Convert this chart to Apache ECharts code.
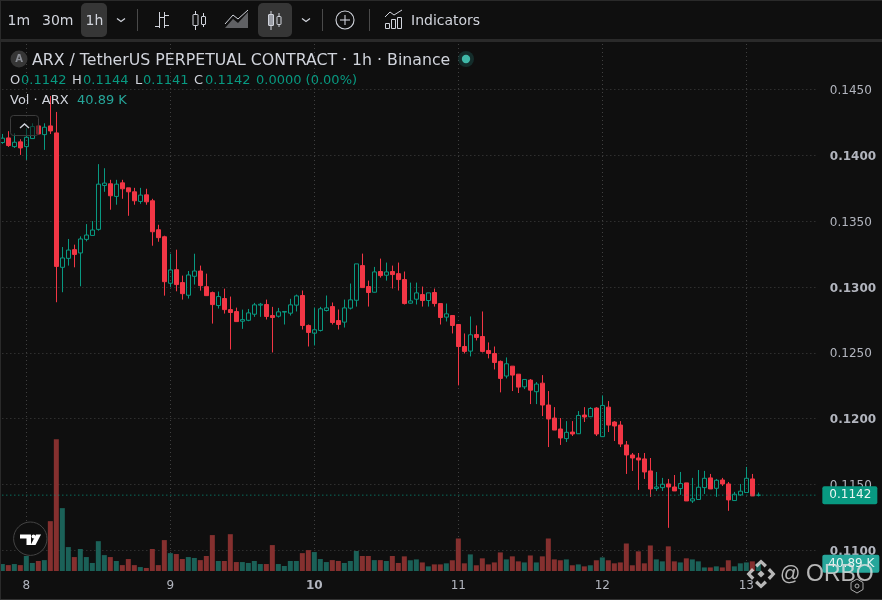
<!DOCTYPE html>
<html><head><meta charset="utf-8"><style>html,body{margin:0;padding:0;background:#0f0f0f}#c{width:882px;height:600px}</style>
<script src="https://cdn.jsdelivr.net/npm/echarts@6/dist/echarts.min.js"></script></head><body><div id="c"></div>
<script>
const opens=[0.14096,0.14131,0.14065,0.14101,0.14065,0.14126,0.14222,0.14156,0.14222,0.14169,
0.13149,0.13217,0.13283,0.13258,0.13361,0.13391,0.13437,0.13770,0.13783,0.13687,
0.13790,0.13752,0.13722,0.13649,0.13699,0.13654,0.13434,0.13381,0.13028,0.13131,
0.13033,0.12937,0.13081,0.13121,0.13002,0.12957,0.12859,0.12912,0.12828,0.12813,
0.12740,0.12747,0.12793,0.12862,0.12867,0.12783,0.12778,0.12809,0.12801,0.12862,
0.12935,0.12708,0.12649,0.12670,0.12821,0.12851,0.12745,0.12733,0.12839,0.12899,
0.13162,0.13003,0.12960,0.13117,0.13089,0.13117,0.13101,0.13056,0.12877,0.12907,
0.12942,0.12897,0.12958,0.12874,0.12771,0.12783,0.12715,0.12548,0.12513,0.12639,
0.12624,0.12518,0.12495,0.12435,0.12324,0.12399,0.12338,0.12242,0.12293,0.12205,
0.12270,0.12104,0.12005,0.11922,0.11849,0.11899,0.11886,0.12028,0.12015,0.12081,
0.11864,0.12088,0.11975,0.11952,0.11801,0.11725,0.11702,0.11695,0.11604,0.11470,
0.11477,0.11505,0.11482,0.11470,0.11513,0.11376,0.11387,0.11477,0.11551,0.11472,
0.11535,0.11505,0.11379,0.11422,0.11440,0.11543,0.11420];
const closes=[0.14129,0.14073,0.14098,0.14055,0.14136,0.14217,0.14161,0.14212,0.14184,0.13156,
0.13220,0.13280,0.13247,0.13364,0.13394,0.13432,0.13780,0.13788,0.13692,0.13780,
0.13745,0.13722,0.13654,0.13697,0.13646,0.13419,0.13374,0.13040,0.13129,0.13018,
0.12949,0.13091,0.13121,0.13010,0.12934,0.12866,0.12927,0.12828,0.12806,0.12737,
0.12752,0.12803,0.12864,0.12869,0.12776,0.12768,0.12811,0.12814,0.12864,0.12932,
0.12708,0.12655,0.12675,0.12834,0.12841,0.12730,0.12715,0.12841,0.12902,0.13175,
0.12995,0.12958,0.13114,0.13086,0.13114,0.13094,0.13056,0.12874,0.12894,0.12955,
0.12897,0.12955,0.12874,0.12768,0.12796,0.12708,0.12548,0.12511,0.12637,0.12617,
0.12511,0.12495,0.12427,0.12306,0.12417,0.12331,0.12240,0.12298,0.12217,0.12263,
0.12104,0.11998,0.11914,0.11854,0.11897,0.11884,0.12025,0.12013,0.12078,0.11884,
0.12101,0.11952,0.11945,0.11808,0.11725,0.11702,0.11687,0.11596,0.11467,0.11482,
0.11503,0.11482,0.11452,0.11508,0.11376,0.11392,0.11480,0.11548,0.11467,0.11533,
0.11505,0.11384,0.11427,0.11450,0.11548,0.11414,0.11420];
const lows=[0.14086,0.14063,0.14055,0.14002,0.13964,0.14124,0.14161,0.14040,0.14161,0.12884,
0.12960,0.13162,0.13149,0.13005,0.13346,0.13389,0.13427,0.13722,0.13586,0.13624,
0.13669,0.13540,0.13624,0.13631,0.13624,0.13313,0.13343,0.12934,0.13000,0.12967,
0.12904,0.12912,0.13018,0.12972,0.12934,0.12722,0.12836,0.12798,0.12525,0.12737,
0.12682,0.12740,0.12773,0.12773,0.12753,0.12503,0.12768,0.12715,0.12783,0.12814,
0.12677,0.12548,0.12556,0.12662,0.12814,0.12715,0.12677,0.12692,0.12829,0.12851,
0.12995,0.12851,0.12958,0.13071,0.13048,0.12988,0.12973,0.12867,0.12874,0.12867,
0.12851,0.12851,0.12851,0.12715,0.12738,0.12647,0.12253,0.12495,0.12473,0.12594,
0.12503,0.12458,0.12374,0.12200,0.12306,0.12210,0.12195,0.12225,0.12111,0.12111,
0.12020,0.11785,0.11914,0.11801,0.11823,0.11869,0.11884,0.11975,0.12013,0.11869,
0.11864,0.11899,0.11831,0.11785,0.11581,0.11604,0.11460,0.11543,0.11407,0.11452,
0.11452,0.11172,0.11452,0.11422,0.11376,0.11361,0.11387,0.11429,0.11467,0.11407,
0.11490,0.11301,0.11376,0.11414,0.11437,0.11414,0.11410];
const highs=[0.14161,0.14182,0.14166,0.14121,0.14204,0.14242,0.14222,0.14242,0.14449,0.14328,
0.13303,0.13364,0.13321,0.13384,0.13477,0.13500,0.13932,0.13901,0.13813,0.13813,
0.13813,0.13752,0.13752,0.13752,0.13745,0.13669,0.13472,0.13389,0.13252,0.13283,
0.13086,0.13121,0.13252,0.13162,0.13101,0.12965,0.12965,0.12987,0.12927,0.12843,
0.12828,0.12833,0.12879,0.12879,0.12904,0.12849,0.12841,0.12814,0.12910,0.12942,
0.12973,0.12715,0.12844,0.12849,0.12935,0.12882,0.12829,0.12904,0.13026,0.13175,
0.13253,0.13048,0.13152,0.13215,0.13185,0.13162,0.13185,0.13117,0.13033,0.13033,
0.13003,0.12955,0.12988,0.12874,0.12874,0.12783,0.12715,0.12647,0.12776,0.12708,
0.12814,0.12579,0.12548,0.12442,0.12465,0.12399,0.12338,0.12298,0.12301,0.12278,
0.12331,0.12210,0.12088,0.12005,0.11982,0.11982,0.12058,0.12088,0.12088,0.12088,
0.12177,0.12134,0.11982,0.11982,0.11831,0.11740,0.11740,0.11740,0.11702,0.11596,
0.11551,0.11543,0.11573,0.11596,0.11513,0.11551,0.11611,0.11604,0.11581,0.11543,
0.11551,0.11520,0.11445,0.11505,0.11634,0.11581,0.11440];
const volumesK=[39,33,39,33,84,45,56,61,279,737,
352,134,78,123,78,45,167,89,78,56,
33,67,33,22,17,123,33,173,100,95,
67,78,73,61,84,201,56,56,206,50,
50,45,56,39,39,145,39,28,56,56,
100,117,106,67,50,61,56,45,56,112,
84,84,61,61,56,84,45,
82,60,65,48,26,37,37,43,60,182,
43,93,32,71,37,48,104,65,82,54,
48,87,48,82,182,65,60,65,32,37,
26,32,60,76,60,43,48,154,32,110,
43,143,65,54,138,54,48,71,65,54,
20,20,26,20,60,26,43,48,54,40.89];
const dayLabels=['8','9','10','11','12','13'];
const boldDay='10';
const lastPrice=0.1142, lastVolumeK=40.89;
const BG='#0f0f0f',UP='#089981',DOWN='#F23645',VUP='#1b6158',VDOWN='#85302f',TXT='#d1d4dc',AXT='#b2b5be',GRID='#404040';
const HOURS_PER_DAY=24, FIRST_DAY_INDEX=4, SLOTS=137;
const categories=[];
for(let i=0;i<SLOTS;i++){const d=i-FIRST_DAY_INDEX;categories.push(d>=0&&d%HOURS_PER_DAY===0?dayLabels[d/HOURS_PER_DAY]:'');}
const isDay=i=>categories[i]!=='';
const candles=opens.map((o,i)=>[o,closes[i],lows[i],highs[i]]);

const F='"DejaVu Sans"';
const g=[];
const Z=100;
function text(x,y,t,fill,font,extra){g.push({type:'text',x,y,z:Z+2,silent:true,style:Object.assign({text:t,fill,font:font||('13px '+F),verticalAlign:'middle',align:'left'},extra||{})});}
function rect(x,y,w,h,fill,r,stroke,z){g.push({type:'rect',z:z||Z,silent:true,shape:{x,y,width:w,height:h,r:r||0},style:{fill:fill||'transparent',stroke:stroke||null,lineWidth:1}});}
function line(x1,y1,x2,y2,stroke,w){g.push({type:'line',z:Z+1,silent:true,shape:{x1,y1,x2,y2},style:{stroke,lineWidth:w||1}});}
function poly(points,stroke,fill,w,closed){g.push({type:closed?'polygon':'polyline',z:Z+1,silent:true,shape:{points},style:{stroke:stroke||null,fill:fill||null,lineWidth:w||1}});}
function circle(cx,cy,r,stroke,fill,w){g.push({type:'circle',z:Z+1,silent:true,shape:{cx,cy,r},style:{stroke:stroke||null,fill:fill||null,lineWidth:w||1}});}

// frame and toolbar
rect(0,0,882,39,BG);
rect(0,0,882,1,'#2a2a2a');
rect(0,39,882,3,'#2a2a2a');
rect(0,0,1,600,'#2a2a2a');
rect(0,599,882,1,'#333333');
rect(81,3,26,34,'#363636',5);
rect(258,3,34,34,'#363636',5);
text(7.5,21,'1m',TXT,'14px '+F);
text(42,21,'30m',TXT,'14px '+F);
text(85.5,21,'1h',TXT,'14px '+F);
const chev=(x)=>poly([[x-4,18.5],[x,21.5],[x+4,18.5]],TXT,null,1.2);
chev(121);chev(306);
[137.5,322.5,369.5].forEach(x=>line(x,9,x,31,'#4a4a4a'));
// bar icon
line(159.5,12,159.5,28,TXT);line(155,26.5,159.5,26.5,TXT);line(159.5,17.5,164,17.5,TXT);
line(164.5,12,164.5,28,TXT);line(164.5,15.5,169,15.5,TXT);line(164.5,25.5,169,25.5,TXT);
// candle icon
const candleIcon=(x1,x2,fillL)=>{
 rect(x1-2.5,14.5,5,11,fillL||'transparent',0.5,TXT,Z+1);line(x1,11,x1,14.5,TXT);line(x1,25.5,x1,30,TXT);
 rect(x2-2,16.5,4,8,'transparent',0.5,TXT,Z+1);line(x2,13,x2,16.5,TXT);line(x2,24.5,x2,27,TXT);};
candleIcon(195.5,203.5);
candleIcon(271,279,'#9a9da5');
// area icon
poly([[225,28],[233,19],[238,23],[248,12],[248,28]],null,'rgba(209,212,220,0.42)',1,true);
poly([[225,24],[233,15],[238,19],[248,10]],TXT,null,1);
// add circle
circle(345,20,9,TXT,null,1.1);line(340,20,350,20,TXT,1.1);line(345,15,345,25,TXT,1.1);
// indicators icon
rect(385.5,23.5,4,5,'transparent',0,TXT,Z+1);rect(391.5,19.5,4,9,'transparent',0,TXT,Z+1);rect(397.5,17.5,4,11,'transparent',0,TXT,Z+1);
poly([[385,17],[390,12],[394,15],[402,10]],TXT,null,1);
text(411,21,'Indicators',TXT,'14px '+F);
// legend
circle(19,59,8.5,null,'#363636');
text(19,59.5,'A','#8a8d94','bold 10px '+F,{align:'center'});
text(32,60.5,'ARX / TetherUS PERPETUAL CONTRACT · 1h · Binance',TXT,'15.75px '+F);
circle(466,59,8,null,'rgba(38,166,154,0.2)');
circle(466,59,4.2,null,'#3fb8a8');
const OG='#089981';
[[10,'O',21,'0.1142'],[72,'H',83,'0.1144'],[135,'L',143,'0.1141'],[194,'C',205,'0.1142']].forEach(a=>{text(a[0],81,a[1],TXT);text(a[2],81,a[3],OG);});
text(256,81,'0.0000 (0.00%)',OG);
text(10,101,'Vol · ARX',TXT);
text(77,101,'40.89 K','#26a69a');
// collapse button
rect(10.5,115.5,28,20,'rgba(15,15,15,0.55)',3,'#3c3c3c');
poly([[20,128],[24.5,124],[29,128]],TXT,null,1.4);
// TV logo
circle(30.3,538.7,16.7,'#444444','#0f0f0f',1);
poly([[20,534.5],[31,534.5],[31,545],[26.5,545],[26.5,538.5],[20,538.5]],null,'#ffffff',1,true);
circle(33.5,536.5,2,null,'#ffffff');
poly([[36,534.5],[41,534.5],[35.5,545],[30.7,545]],null,'#ffffff',1,true);
// watermark
const WM='rgba(225,225,225,0.8)';
const dm=(cx,cy,r,c)=>poly([[cx,cy-r],[cx+r,cy],[cx,cy+r],[cx-r,cy]],null,c,1,true);
dm(761,574,3.6,WM);
[[0,-1],[1,0],[0,1],[-1,0]].forEach(d=>{
 const cx=761+d[0]*9,cy=574+d[1]*9;
 const a=[d[1]===0?d[0]:0,d[0]===0?d[1]:0];
 const px=-a[1],py=a[0];
 poly([[cx+a[0]*5.5,cy+a[1]*5.5],[cx+px*6+a[0]*0,cy+py*6],[cx+px*3.6-a[0]*2.4,cy+py*3.6-a[1]*2.4],[cx+a[0]*1.2,cy+a[1]*1.2],[cx-px*3.6-a[0]*2.4,cy-py*3.6-a[1]*2.4],[cx-px*6,cy-py*6]],null,WM,1,true);
});
text(780,574,'@',WM,'20px "Liberation Sans"');
text(806,574.5,'ORBO',WM,'23px "Liberation Sans"');
poly([[857,579],[863,582.5],[863,589.5],[857,593],[851,589.5],[851,582.5]],'#aaaaaa',null,1,true);
circle(857,586,2,'#aaaaaa',null,1);

const tagLabel=(text,bg,pad)=>({show:true,distance:4,formatter:()=>text,color:'#e8f5f2',fontSize:12,fontFamily:F,backgroundColor:bg,padding:pad,borderRadius:2});
const option={
 backgroundColor:BG,animation:false,
 textStyle:{fontFamily:F},
 grid:[
  {left:2.33,right:63.67,top:23.4,bottom:49.5},
  {left:2.33,right:63.67,top:44,bottom:29}
 ],
 xAxis:[
  {type:'category',gridIndex:0,data:categories,boundaryGap:false,axisLine:{show:false},axisTick:{show:false},axisLabel:{show:false},splitLine:{show:false}},
  {type:'category',gridIndex:1,data:categories,boundaryGap:false,axisLine:{show:false},axisTick:{show:false},
   axisLabel:{interval:(i)=>isDay(i),margin:9,fontSize:12,color:AXT,fontFamily:F,formatter:v=>v===boldDay?'{b|'+v+'}':v,rich:{b:{fontWeight:'bold',fontSize:12,color:AXT,fontFamily:F}}},
   splitLine:{show:true,interval:(i)=>isDay(i),lineStyle:{color:GRID,type:[1,3],width:1}}}
 ],
 yAxis:[
  {type:'value',gridIndex:0,position:'right',min:0.11,max:0.15,interval:0.005,axisLine:{show:false},axisTick:{show:false},
   axisLabel:{margin:11.5,padding:[3,0,0,0],fontSize:12,color:AXT,fontFamily:F,showMaxLabel:false,
    formatter:v=>{const s=v.toFixed(4);return Math.round(v*1000)%10===0?'{b|'+s+'}':s;},
    rich:{b:{fontWeight:'bold',fontSize:12,color:AXT,fontFamily:F}}},
   splitLine:{show:true,showMaxLine:false,lineStyle:{color:GRID,type:[1,3],width:1}}},
  {type:'value',gridIndex:1,position:'right',min:0,max:2950,show:false,splitLine:{show:false}}
 ],
 series:[
  {type:'bar',name:'Vol',xAxisIndex:1,yAxisIndex:1,clip:false,barWidth:5,z:2,
   data:volumesK.map((v,i)=>({value:v,itemStyle:{color:closes[i]>=opens[i]?VUP:VDOWN}}))},
  {type:'candlestick',name:'ARX',xAxisIndex:0,yAxisIndex:0,clip:false,barWidth:5,z:3,data:candles,
   itemStyle:{color:'transparent',color0:DOWN,borderColor:UP,borderColor0:DOWN,borderColorDoji:UP,borderWidth:1}},
  {type:'line',name:'Last price',xAxisIndex:0,yAxisIndex:0,z:4,showSymbol:false,silent:true,clip:false,
   data:categories.map(()=>lastPrice),lineStyle:{color:UP,type:[1,3],width:1},
   endLabel:tagLabel(lastPrice.toFixed(4),UP,[3,6,3,7])},
  {type:'line',name:'Last volume',xAxisIndex:1,yAxisIndex:1,z:4,showSymbol:false,silent:true,clip:false,
   data:categories.map(()=>lastVolumeK),lineStyle:{opacity:0,width:0},
   endLabel:tagLabel(lastVolumeK.toFixed(2)+' K','#26a69a',[3,5,3,6])}
 ],
 graphic:{elements:g}
};
echarts.init(document.getElementById('c'),null,{renderer:'canvas'}).setOption(option);
</script></body></html>
